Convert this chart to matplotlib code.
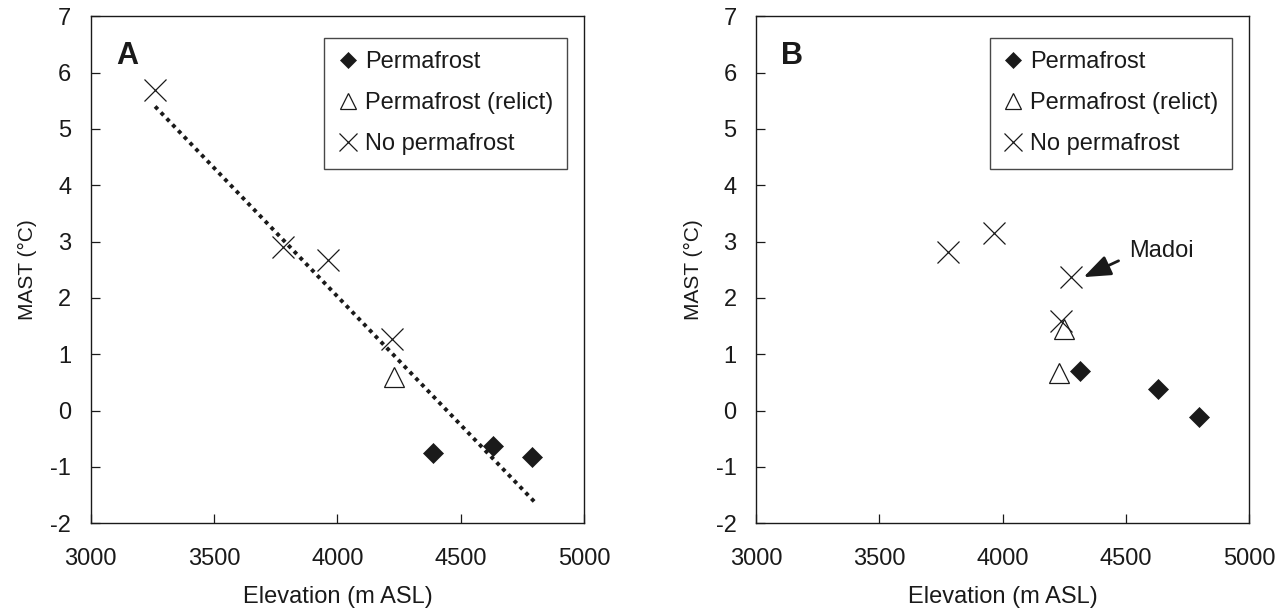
import numpy as np
import matplotlib.pyplot as plt

plt.rcParams['font.family'] = ['Liberation Sans', 'DejaVu Sans']
plt.rcParams['axes.unicode_minus'] = False
plt.rcParams['text.color'] = '#1a1a1a'
plt.rcParams['axes.labelcolor'] = '#1a1a1a'
plt.rcParams['xtick.color'] = '#1a1a1a'
plt.rcParams['ytick.color'] = '#1a1a1a'

# panel A: MAST vs elevation
a_pf_x = [4387, 4631, 4790]
a_pf_y = [-0.75, -0.63, -0.83]
a_rel_x = [4228]
a_rel_y = [0.59]
a_no_x = [3261, 3779, 3963, 4221]
a_no_y = [5.69, 2.90, 2.67, 1.28]
trend_x = [3261, 4806]
trend_y = [5.40, -1.65]

# panel B
b_pf_x = [4312, 4631, 4796]
b_pf_y = [0.71, 0.39, -0.11]
b_rel_x = [4247, 4228]
b_rel_y = [1.45, 0.67]
b_no_x = [3780, 3963, 4277, 4236]
b_no_y = [2.81, 3.15, 2.37, 1.60]

xticks = [3000, 3500, 4000, 4500, 5000]
yticks = list(range(-2, 8))

fig = plt.figure(figsize=(12.87, 6.14), dpi=100)
axA = fig.add_axes([0.0705, 0.1477, 0.3833, 0.8257])
axB = fig.add_axes([0.5874, 0.1477, 0.3833, 0.8257])

ink = '#1a1a1a'


def draw_panel(ax, pf_x, pf_y, rel_x, rel_y, no_x, no_y, letter):
    ax.plot(pf_x, pf_y, 'D', ms=10.5, color=ink, mec=ink, mew=0.5,
            ls='none', label='Permafrost', zorder=3)
    ax.plot(rel_x, rel_y, '^', ms=14.3, mfc='white', mec=ink, mew=0.9,
            ls='none', label='Permafrost (relict)', zorder=3)
    ax.plot(no_x, no_y, 'x', ms=15.5, color=ink, mew=0.9,
            ls='none', label='No permafrost', zorder=3)

    ax.set_xlim(3000, 5000)
    ax.set_ylim(-2, 7)
    ax.set_xticks(xticks)
    ax.set_yticks(yticks)
    ax.tick_params(direction='in', length=6.2, width=0.9, labelsize=17)
    ax.tick_params(axis='y', pad=14)
    ax.tick_params(axis='x', pad=18)
    for s in ax.spines.values():
        s.set_linewidth(1.0)
        s.set_color(ink)

    ax.set_xlabel('Elevation (m ASL)', fontsize=17)
    ax.set_ylabel('MAST (°C)', fontsize=15)
    ax.xaxis.set_label_coords(0.5, -0.123)
    ax.yaxis.set_label_coords(-0.108, 0.5)

    ax.text(0.051, 0.952, letter, transform=ax.transAxes, fontsize=22,
            fontweight='bold', ha='left', va='top')

    leg = ax.legend(loc='upper right', bbox_to_anchor=(0.965, 0.958),
                    fontsize=17, frameon=True, fancybox=False,
                    markerscale=0.8, handlelength=0.85, handletextpad=0.28,
                    borderpad=0.58, labelspacing=0.8, borderaxespad=0)
    leg.get_frame().set_edgecolor(ink)
    leg.get_frame().set_linewidth(1.0)


draw_panel(axA, a_pf_x, a_pf_y, a_rel_x, a_rel_y, a_no_x, a_no_y, 'A')
draw_panel(axB, b_pf_x, b_pf_y, b_rel_x, b_rel_y, b_no_x, b_no_y, 'B')

# dotted trend line through panel A
axA.plot(trend_x, trend_y, color=ink, lw=2.8, ls=(0, (1, 1.15)),
         dash_capstyle='butt', zorder=2)

# Madoi callout
axB.annotate('', xy=(4328, 2.37), xytext=(4470, 2.66),
             arrowprops=dict(arrowstyle='-|>,head_length=1.1,head_width=0.42',
                             mutation_scale=15, color=ink, lw=2.0,
                             shrinkA=0, shrinkB=0))
axB.text(4513, 2.83, 'Madoi', fontsize=17, ha='left', va='center')

plt.savefig('out.png', dpi=100)
